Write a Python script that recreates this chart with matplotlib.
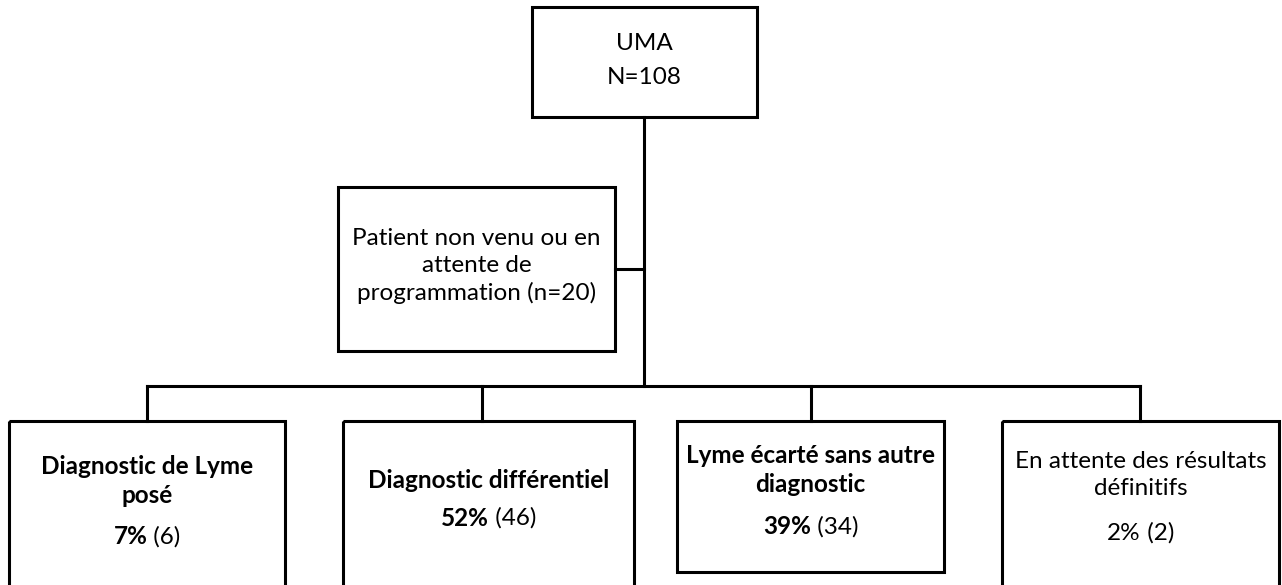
import matplotlib
matplotlib.use("Agg")
import matplotlib.pyplot as plt
from matplotlib.patches import Rectangle

plt.rcParams['font.family'] = ['Lato', 'DejaVu Sans']

# ---- data ----
root_title = "UMA"
root_n = 108
excluded_label = "Patient non venu ou en\nattente de\nprogrammation (n=20)"
outcome_labels = ["Diagnostic de Lyme\nposé", "Diagnostic différentiel",
                  "Lyme écarté sans autre\ndiagnostic", "En attente des résultats\ndéfinitifs"]
outcome_pct = [7, 52, 39, 2]
outcome_n = [6, 46, 34, 2]
outcome_bold = [True, True, True, False]

# ---- layout (pixel coordinates) ----
W, H = 1282, 585
fig = plt.figure(figsize=(W / 100, H / 100), dpi=100)
ax = fig.add_axes([0, 0, 1, 1])
ax.set_xlim(0, W)
ax.set_ylim(H, 0)
ax.axis('off')

LW = 2.2
FS = 17.5
LS = 1.32

def box(x0, y0, x1, y1):
    ax.add_patch(Rectangle((x0, y0), x1 - x0, y1 - y0, fill=False,
                           edgecolor='black', linewidth=LW, clip_on=True))

def line(xs, ys):
    ax.plot(xs, ys, color='black', linewidth=LW, solid_capstyle='projecting')

# root
box(532, 7, 757, 117)
ax.text(644.5, 43, root_title, ha='center', va='center', fontsize=FS)
ax.text(644.5, 78, f"N={root_n}", ha='center', va='center', fontsize=FS)

# trunk
line([644, 644], [117, 386])

# excluded
box(338, 187, 615, 351)
line([615, 644], [269, 269])
ax.text(476.5, 266, excluded_label, ha='center', va='center', fontsize=FS,
        linespacing=LS)

# horizontal branch
drops = [147, 482, 811, 1140]
line([drops[0], drops[-1]], [386, 386])

boxes = [(9, 421, 285, 600), (343, 421, 634, 600),
         (677, 421, 944, 572), (1002, 421, 1279, 600)]
label_y = [481, 480, 470, 475]
pct_y = [537, 518, 527, 533]

fig.canvas.draw()
renderer = fig.canvas.get_renderer()
for i in range(4):
    x0, y0, x1, y1 = boxes[i]
    line([drops[i], drops[i]], [386, y0])
    box(x0, y0, x1, y1)
    cx = (x0 + x1) / 2
    w = 'bold' if outcome_bold[i] else 'normal'
    ax.text(cx, label_y[i], outcome_labels[i], ha='center', va='center',
            fontsize=FS, fontweight=w, linespacing=LS)
    t1 = ax.text(cx, pct_y[i], f"{outcome_pct[i]}%", ha='left', va='center',
                 fontsize=FS, fontweight=w)
    t2 = ax.text(cx, pct_y[i], f" ({outcome_n[i]})", ha='left', va='center',
                 fontsize=FS)
    e1 = t1.get_window_extent(renderer)
    e2 = t2.get_window_extent(renderer)
    total = e1.width + e2.width
    left = cx - total / 2
    t1.set_x(left)
    t2.set_x(left + e1.width)

fig.savefig("out.png", dpi=100)
